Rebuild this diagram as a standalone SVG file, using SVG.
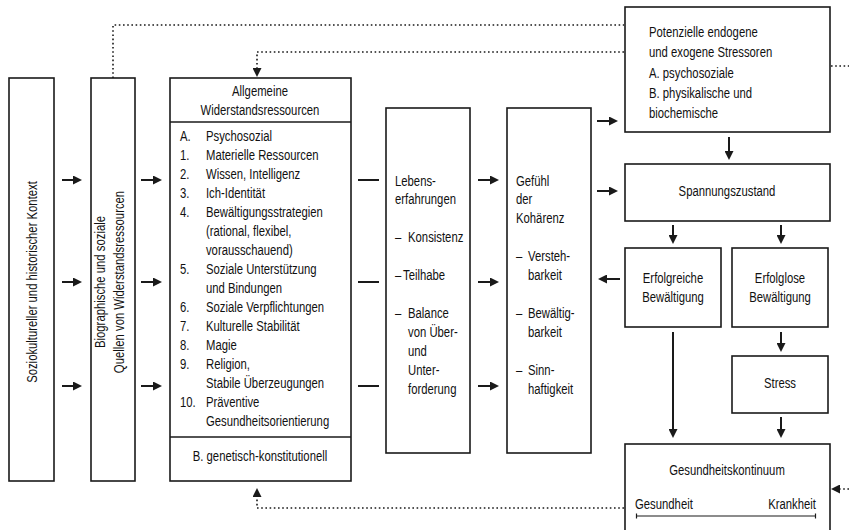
<svg xmlns="http://www.w3.org/2000/svg" width="849" height="530" viewBox="0 0 849 530">
<style>
.box{fill:#fff;stroke:#1a1a1a;stroke-width:1.6}
.t{font-family:"Liberation Sans",Arial,sans-serif;font-size:14.5px;fill:#111}
.c{text-anchor:middle}
.e{text-anchor:end}
.ln{stroke:#1a1a1a;stroke-width:2;fill:none}
.dot{stroke:#1a1a1a;stroke-width:1.6;stroke-dasharray:1.6 2.6;fill:none}
</style>
<defs>
<marker id="ah" viewBox="0 0 10 10" refX="0" refY="5" markerWidth="9" markerHeight="9" markerUnits="userSpaceOnUse" orient="auto">
<path d="M0,0 L10,5 L0,10 z" fill="#1a1a1a"/>
</marker>
</defs>
<rect width="849" height="530" fill="#fff"/>

<g id="n-kontext">
<rect class="box" x="9" y="78" width="45" height="403"/>
<text class="t c" transform="translate(37,282) rotate(-90) scale(.78,1)">Soziokultureller und historischer Kontext</text>
</g>

<g id="n-quellen">
<rect class="box" x="91" y="78" width="44" height="403"/>
<text class="t c" transform="translate(105,282) rotate(-90) scale(.78,1)">Biographische und soziale</text>
<text class="t c" transform="translate(124,282) rotate(-90) scale(.78,1)">Quellen von Widerstandsressourcen</text>
</g>

<g id="n-gwr">
<rect class="box" x="170" y="78" width="181" height="403"/>
<line class="box" x1="170" y1="122" x2="351" y2="122"/>
<line class="box" x1="170" y1="437" x2="351" y2="437"/>
<g class="t c" transform="translate(260,0) scale(.78,1)">
<text x="0" y="96">Allgemeine</text>
<text x="0" y="115">Widerstandsressourcen</text>
<text x="0" y="461">B. genetisch-konstitutionell</text>
</g>
<g class="t" transform="translate(180,0) scale(.78,1)">
<text x="0" y="141">A.</text><text x="33.3" y="141">Psychosozial</text>
<text x="0" y="160">1.</text><text x="33.3" y="160">Materielle Ressourcen</text>
<text x="0" y="179">2.</text><text x="33.3" y="179">Wissen, Intelligenz</text>
<text x="0" y="198">3.</text><text x="33.3" y="198">Ich-Identität</text>
<text x="0" y="217">4.</text><text x="33.3" y="217">Bewältigungsstrategien</text>
<text x="33.3" y="236">(rational, flexibel,</text>
<text x="33.3" y="255">vorausschauend)</text>
<text x="0" y="274">5.</text><text x="33.3" y="274">Soziale Unterstützung</text>
<text x="33.3" y="293">und Bindungen</text>
<text x="0" y="312">6.</text><text x="33.3" y="312">Soziale Verpflichtungen</text>
<text x="0" y="331">7.</text><text x="33.3" y="331">Kulturelle Stabilität</text>
<text x="0" y="350">8.</text><text x="33.3" y="350">Magie</text>
<text x="0" y="369">9.</text><text x="33.3" y="369">Religion,</text>
<text x="33.3" y="388">Stabile Überzeugungen</text>
<text x="0" y="407">10.</text><text x="33.3" y="407">Präventive</text>
<text x="33.3" y="426">Gesundheitsorientierung</text>
</g>
</g>

<g id="n-lebens">
<rect class="box" x="386" y="108" width="84" height="345"/>
<g class="t" transform="translate(395,0) scale(.78,1)">
<text x="0" y="186">Lebens-</text>
<text x="0" y="204">erfahrungen</text>
<text x="0" y="242">–</text><text x="16.7" y="242">Konsistenz</text>
<text x="0" y="280">–</text><text x="10.3" y="280">Teilhabe</text>
<text x="0" y="318">–</text><text x="16.7" y="318">Balance</text>
<text x="16.7" y="337">von Über-</text>
<text x="16.7" y="356">und</text>
<text x="16.7" y="375">Unter-</text>
<text x="16.7" y="394">forderung</text>
</g>
</g>

<g id="n-soc">
<rect class="box" x="507" y="108" width="84" height="345"/>
<g class="t" transform="translate(516,0) scale(.78,1)">
<text x="0" y="186">Gefühl</text>
<text x="0" y="204">der</text>
<text x="0" y="223">Kohärenz</text>
<text x="0" y="261">–</text><text x="15.4" y="261">Versteh-</text>
<text x="15.4" y="280">barkeit</text>
<text x="0" y="318">–</text><text x="15.4" y="318">Bewältig-</text>
<text x="15.4" y="337">barkeit</text>
<text x="0" y="375">–</text><text x="15.4" y="375">Sinn-</text>
<text x="15.4" y="394">haftigkeit</text>
</g>
</g>

<g id="n-stressoren">
<rect class="box" x="625" y="7" width="205" height="125"/>
<g class="t" transform="translate(649,0) scale(.78,1)">
<text x="0" y="37">Potenzielle endogene</text>
<text x="0" y="57">und exogene Stressoren</text>
<text x="0" y="78">A. psychosoziale</text>
<text x="0" y="98">B. physikalische und</text>
<text x="0" y="118">biochemische</text>
</g>
</g>

<g id="n-spannung">
<rect class="box" x="625" y="164" width="205" height="57"/>
<text class="t c" transform="translate(727,196) scale(.78,1)">Spannungszustand</text>
</g>

<g id="n-erfolgreich">
<rect class="box" x="625" y="248" width="96" height="79"/>
<g class="t c" transform="translate(673,0) scale(.78,1)">
<text x="0" y="283">Erfolgreiche</text>
<text x="0" y="302">Bewältigung</text>
</g>
</g>

<g id="n-erfolglos">
<rect class="box" x="732" y="248" width="96" height="79"/>
<g class="t c" transform="translate(780,0) scale(.78,1)">
<text x="0" y="283">Erfolglose</text>
<text x="0" y="302">Bewältigung</text>
</g>
</g>

<g id="n-stress">
<rect class="box" x="732" y="356" width="96" height="57"/>
<text class="t c" transform="translate(780,388) scale(.78,1)">Stress</text>
</g>

<g id="n-kontinuum">
<rect class="box" x="625" y="444" width="205" height="100"/>
<text class="t c" transform="translate(727,475) scale(.78,1)">Gesundheitskontinuum</text>
<text class="t" transform="translate(635,509) scale(.78,1)">Gesundheit</text>
<text class="t e" transform="translate(816,509) scale(.78,1)">Krankheit</text>
<path d="M636,516 H816 M636.5,513.5 V518.5 M815.5,513.5 V518.5" stroke="#1a1a1a" stroke-width="1.2" fill="none"/>
</g>

<g id="connectors">
<g class="ln" marker-end="url(#ah)">
<path d="M62,180 H73"/><path d="M62,282 H73"/><path d="M62,386 H73"/>
<path d="M141,180 H153"/><path d="M141,282 H153"/><path d="M141,386 H153"/>
<path d="M478,180 H490"/><path d="M478,282 H490"/><path d="M478,386 H490"/>
<path d="M597,121 H609"/><path d="M597,191 H609"/>
<path d="M620,279 H607"/>
<path d="M729,137 V151"/>
<path d="M673,225 V235"/><path d="M781,225 V235"/>
<path d="M673,332 V429"/>
<path d="M781,332 V343"/>
<path d="M781,417 V429"/>
</g>
<g class="ln">
<path d="M358,180 H379"/><path d="M358,282 H379"/><path d="M358,386 H379"/>
</g>
<g class="dot">
<path d="M113,78 V25 H624"/>
<path d="M624,52 H257 V68" marker-end="url(#ah)"/>
<path d="M831,66 H849"/>
<path d="M849,489 H840" marker-end="url(#ah)"/>
<path d="M624,508 H257 V497" marker-end="url(#ah)"/>
</g>
</g>
</svg>
